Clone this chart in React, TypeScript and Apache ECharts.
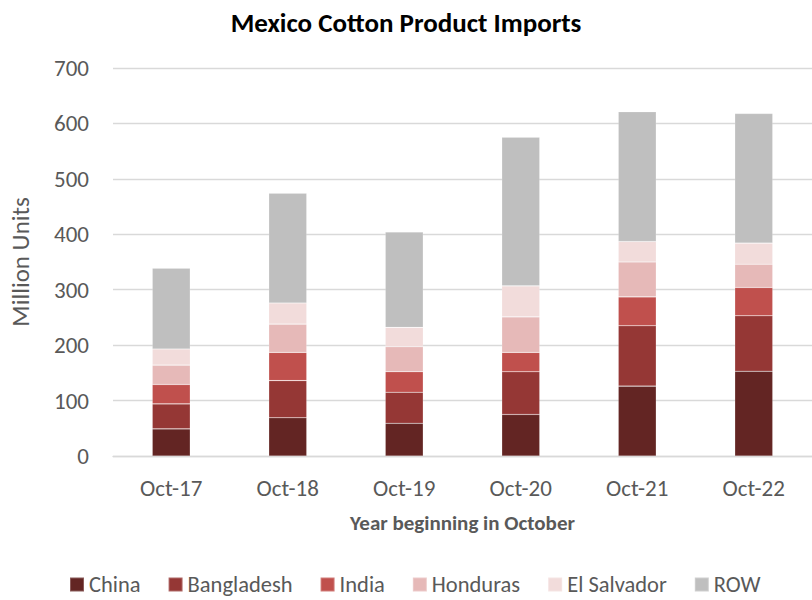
import React, { useEffect, useRef } from "react";
import * as echarts from "echarts";

const categories = ["Oct-17", "Oct-18", "Oct-19", "Oct-20", "Oct-21", "Oct-22"];
const china = [49, 69, 59, 75, 126, 153];
const bangladesh = [45, 67, 56, 77, 109, 100];
const india = [35, 51, 37, 35, 52, 51];
const honduras = [35, 51, 45, 64, 63, 42];
const elSalvador = [29, 38, 35, 56, 37, 38];
const row = [146, 198, 172, 268, 234, 234];
const yTicks = [0, 100, 200, 300, 400, 500, 600, 700];

const seriesDefs = [
  { name: "China", data: china, color: "#632523" },
  { name: "Bangladesh", data: bangladesh, color: "#953735" },
  { name: "India", data: india, color: "#C0504D" },
  { name: "Honduras", data: honduras, color: "#E6B9B8" },
  { name: "El Salvador", data: elSalvador, color: "#F2DCDB" },
  { name: "ROW", data: row, color: "#BFBFBF" },
];

const FONT = 'Carlito, Calibri, Lato, "Noto Sans", sans-serif';

export default function App() {
  const ref = useRef<HTMLDivElement>(null);
  useEffect(() => {
    if (!ref.current) return;
    const chart = echarts.init(ref.current, undefined, { renderer: "svg" });
    chart.setOption({
      animation: false,
      backgroundColor: "#ffffff",
      title: {
        text: "Mexico Cotton Product Imports",
        left: "center",
        top: 4,
        textStyle: { fontFamily: FONT, fontSize: 27, fontWeight: "bold", color: "#000000" },
      },
      legend: {
        top: 568,
        left: 64,
        itemWidth: 14,
        itemHeight: 14,
        itemGap: 27,
        icon: "rect",
        textStyle: { fontFamily: FONT, fontSize: 22.5, color: "#595959" },
        data: seriesDefs.map((s) => s.name),
      },
      grid: { left: 104, width: 720, top: 68, bottom: 144, containLabel: false },
      xAxis: {
        type: "category",
        data: categories,
        name: "Year beginning in October",
        nameLocation: "middle",
        nameGap: 56,
        nameTextStyle: { fontFamily: FONT, fontSize: 21, fontWeight: "bold", color: "#595959" },
        axisLine: { lineStyle: { color: "#D9D9D9", width: 1.3 } },
        axisTick: { show: false },
        axisLabel: { fontFamily: FONT, fontSize: 23, color: "#595959", margin: 20 },
      },
      yAxis: {
        type: "value",
        min: yTicks[0],
        max: yTicks[yTicks.length - 1],
        interval: 100,
        name: "Million Units",
        nameLocation: "middle",
        nameGap: 80,
        nameRotate: 90,
        nameTextStyle: { fontFamily: FONT, fontSize: 25, color: "#595959" },
        axisLine: { show: false },
        axisTick: { show: false },
        axisLabel: { fontFamily: FONT, fontSize: 23, color: "#595959", margin: 24 },
        splitLine: { lineStyle: { color: "#D9D9D9", width: 1.3 } },
      },
      series: seriesDefs.map((s) => ({
        name: s.name,
        type: "bar",
        stack: "total",
        barWidth: 38,
        data: s.data,
        itemStyle: { color: s.color, borderColor: "rgba(255,255,255,0.25)", borderWidth: 0.6 },
      })),
    });
    return () => chart.dispose();
  }, []);
  return (
    <div
      ref={ref}
      style={{ position: "fixed", left: 0, top: 0, width: 812, height: 600, overflow: "hidden" }}
    />
  );
}
